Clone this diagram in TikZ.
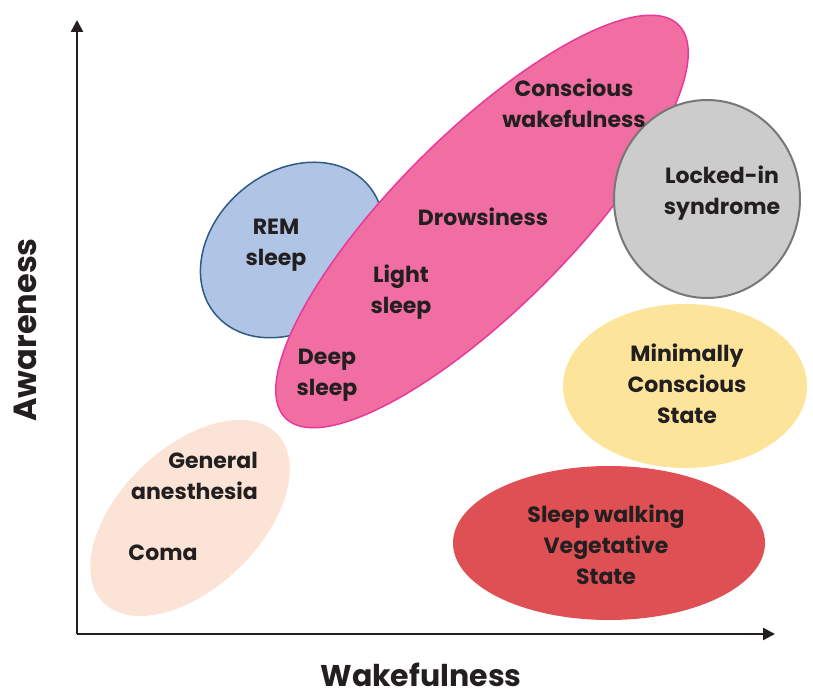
\documentclass[tikz,border=0pt]{standalone}
\usepackage{fontspec}
\setmainfont{Poppins}
\usetikzlibrary{arrows.meta}
\definecolor{txt}{HTML}{231F20}
\definecolor{pinkfill}{HTML}{F06EA1}
\definecolor{pinkline}{HTML}{E8399B}
\definecolor{bluefill}{HTML}{B0C4E5}
\definecolor{blueline}{HTML}{2D5B86}
\definecolor{grayfill}{HTML}{CCCCCC}
\definecolor{grayline}{HTML}{777777}
\definecolor{yellowfill}{HTML}{FCE59A}
\definecolor{redfill}{HTML}{DE5054}
\definecolor{peachfill}{HTML}{FBE3D6}
\tikzset{
  lbl/.style={text=txt, font=\fontsize{22}{31}\selectfont\bfseries, align=center, inner sep=0pt},
  axislbl/.style={text=txt, font=\fontsize{30}{34}\selectfont\bfseries, inner sep=0pt},
  axis/.style={line width=2.4pt, draw=txt, -{Triangle[length=12pt,width=12pt]}}
}
\begin{document}
\begin{tikzpicture}[x=1pt,y=1pt]
\useasboundingbox (0,0) rectangle (813,693);
% ellipses
\filldraw[fill=bluefill, draw=blueline, line width=1.5pt, rotate around={40:(292,443)}] (292,443) ellipse [x radius=100, y radius=78];
\filldraw[fill=pinkfill, draw=pinkline, line width=1.5pt, rotate around={45:(482,471.5)}] (482,471.5) ellipse [x radius=278, y radius=88];
\filldraw[fill=grayfill, draw=grayline, line width=2pt] (707,494) ellipse [x radius=93, y radius=99];
\fill[yellowfill] (685,307) ellipse [x radius=122, y radius=82];
\fill[redfill] (609,150) ellipse [x radius=156, y radius=77];
\fill[peachfill, rotate around={44:(190,175)}] (190,175) ellipse [x radius=121, y radius=70];
% axes
\coordinate (o) at (77,59);
\coordinate (ytop) at (77,673);
\coordinate (xend) at (775,59);
\draw[axis] (o) -- (ytop);
\draw[axis] (o) -- (xend);
% labels
\node[lbl] (cw) at (574,590) {Conscious\\wakefulness};
\node[lbl] (dr) at (483,476) {Drowsiness};
\node[lbl] (ls) at (401,401) {Light\\sleep};
\node[lbl] (ds) at (327,318) {Deep\\sleep};
\node[lbl] (rem) at (276,448) {REM\\sleep};
\node[lbl] (li) at (722,500) {Locked-in\\syndrome};
\node[lbl] (mcs) at (687,309) {Minimally\\Conscious\\State};
\node[lbl] (vs) at (606,148) {Sleep walking\\Vegetative\\State};
\node[lbl, align=right, anchor=east] (ga) at (258,217) {General\\anesthesia};
\node[lbl] (coma) at (163,140) {Coma};
\node[axislbl, font=\fontsize{32}{36}\selectfont\bfseries, rotate=90, anchor=base] (aw) at (36,363) {Awareness};
\node[axislbl, anchor=base, text depth=0pt] (wk) at (421,7) {Wakefulness};
\end{tikzpicture}
\end{document}
